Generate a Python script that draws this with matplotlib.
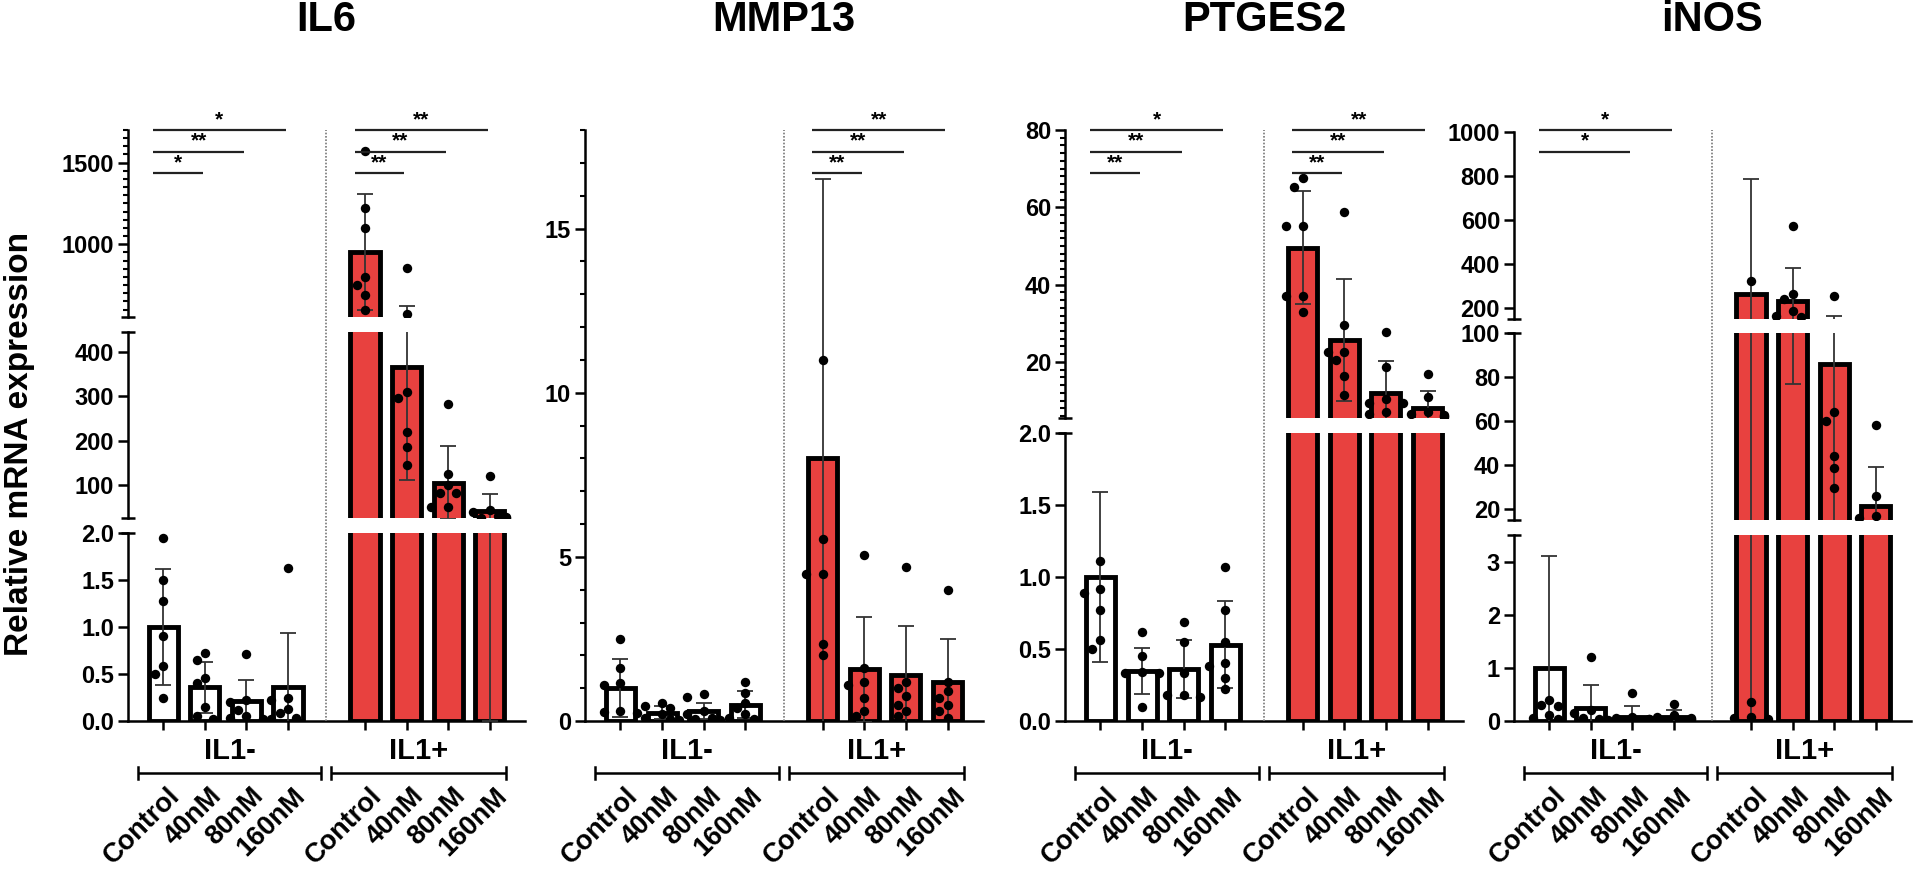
import numpy as np
import matplotlib
matplotlib.use("Agg")
import matplotlib.pyplot as plt
from matplotlib.lines import Line2D

plt.rcParams['font.family'] = ['Liberation Sans', 'DejaVu Sans']
plt.rcParams['font.weight'] = 'bold'

# ---- data ----
groups = ["IL1-", "IL1+"]
doses = ["Control", "40nM", "80nM", "160nM"]
genes = ["IL6", "MMP13", "PTGES2", "iNOS"]

# bar order: IL1- Control, 40, 80, 160, IL1+ Control, 40, 80, 160
il6_mean = [1.0, 0.36, 0.21, 0.36, 955, 365, 105, 40]
il6_sd = [0.62, 0.27, 0.23, 0.58, 355, 255, 82, 40]
il6_pts = [[1.95, 1.5, 1.28, 0.9, 0.58, 0.5, 0.25],
           [0.72, 0.65, 0.46, 0.40, 0.15, 0.05, 0.02],
           [0.71, 0.22, 0.20, 0.12, 0.05, 0.03, 0.02],
           [1.63, 0.24, 0.22, 0.13, 0.08, 0.03, 0.02],
           [1573, 1224, 1097, 800, 752, 691, 600],
           [855, 575, 310, 295, 220, 185, 145],
           [282, 125, 100, 82, 82, 50, 50],
           [120, 42, 38, 30, 28, 26, 25]]
il6_sig = [("IL1-", "40nM", "*"), ("IL1-", "80nM", "**"), ("IL1-", "160nM", "*"),
           ("IL1+", "40nM", "**"), ("IL1+", "80nM", "**"), ("IL1+", "160nM", "**")]

mmp13_mean = [1.0, 0.25, 0.3, 0.5, 8.0, 1.58, 1.39, 1.2]
mmp13_sd = [0.88, 0.2, 0.25, 0.4, 8.5, 1.6, 1.5, 1.3]
mmp13_pts = [[2.5, 1.62, 1.15, 1.1, 0.3, 0.28, 0.25],
             [0.55, 0.45, 0.4, 0.2, 0.1, 0.05, 0.03],
             [0.82, 0.72, 0.3, 0.2, 0.1, 0.05, 0.03],
             [1.2, 0.85, 0.55, 0.4, 0.2, 0.1, 0.05],
             [11.0, 5.55, 4.48, 4.48, 2.36, 2.0],
             [5.06, 1.6, 1.2, 1.1, 0.7, 0.3, 0.15],
             [4.7, 1.2, 1.0, 0.76, 0.5, 0.3, 0.15],
             [4.0, 1.2, 0.9, 0.7, 0.5, 0.3, 0.1]]
mmp13_sig = [("IL1+", "40nM", "**"), ("IL1+", "80nM", "**"), ("IL1+", "160nM", "**")]

ptges2_mean = [1.0, 0.345, 0.36, 0.53, 49.5, 25.6, 12.0, 8.2]
ptges2_sd = [0.59, 0.16, 0.2, 0.3, 14.6, 15.8, 8.2, 4.4]
ptges2_pts = [[1.11, 0.92, 0.89, 0.77, 0.56, 0.50],
              [0.62, 0.45, 0.34, 0.33, 0.33, 0.1],
              [0.69, 0.55, 0.33, 0.18, 0.18, 0.17],
              [1.07, 0.77, 0.55, 0.40, 0.38, 0.30, 0.22],
              [67.6, 65.3, 55.2, 55.2, 37, 37, 33],
              [58.8, 29.6, 22.6, 22.6, 20.5, 16.4, 11.5],
              [27.8, 18.8, 10.5, 9.5, 9.5, 7, 6.5],
              [17, 10.9, 7, 6.5, 6.2, 6, 5.8]]
ptges2_sig = [("IL1-", "40nM", "**"), ("IL1-", "80nM", "**"), ("IL1-", "160nM", "*"),
              ("IL1+", "40nM", "**"), ("IL1+", "80nM", "**"), ("IL1+", "160nM", "**")]

inos_mean = [1.0, 0.25, 0.07, 0.07, 262, 230, 86, 21.5]
inos_sd = [2.1, 0.43, 0.21, 0.13, 525, 153, 78, 17.5]
inos_pts = [[0.4, 0.3, 0.28, 0.12, 0.05, 0.03],
            [1.2, 0.2, 0.15, 0.05, 0.03, 0.02],
            [0.52, 0.08, 0.05, 0.04, 0.03, 0.02],
            [0.32, 0.12, 0.08, 0.05, 0.03, 0.02],
            [323, 0.35, 0.08, 0.05, 0.03],
            [573, 264, 240, 185, 165, 160],
            [255, 64, 60, 44, 38.5, 29.4],
            [58, 26, 17, 16]]
inos_sig = [("IL1-", "80nM", "*"), ("IL1-", "160nM", "*")]

# ---- layout ----
W, H = 1920, 876
RED = '#e8413f'
pos = np.r_[np.arange(4), np.arange(4) + 4.85]
SEP = 3.92
XLIM = (-0.85, 8.7)
AX_TOP, AX_BOT = 130, 721

# segment: (ylo, yhi, bottom px, top px, ticks, minor step, format)
panels = [
    dict(name="IL6", x0=128, x1=525, mean=il6_mean, sd=il6_sd, pts=il6_pts, sig=il6_sig,
         segs=[(0, 2, 721, 533, [0, 0.5, 1, 1.5, 2], None, '{:.1f}'),
               (25, 445, 518, 332, [100, 200, 300, 400], None, '{:.0f}'),
               (555, 1700, 317, 130, [1000, 1500], 50, '{:.0f}')]),
    dict(name="MMP13", x0=585, x1=983, mean=mmp13_mean, sd=mmp13_sd, pts=mmp13_pts, sig=mmp13_sig,
         segs=[(0, 18, 721, 130, [0, 5, 10, 15], 1, '{:.0f}')]),
    dict(name="PTGES2", x0=1065, x1=1463, mean=ptges2_mean, sd=ptges2_sd, pts=ptges2_pts, sig=ptges2_sig,
         segs=[(0, 2, 721, 433, [0, 0.5, 1, 1.5, 2], None, '{:.1f}'),
               (5.5, 80, 418, 130, [20, 40, 60, 80], 2, '{:.0f}')]),
    dict(name="iNOS", x0=1514, x1=1911, mean=inos_mean, sd=inos_sd, pts=inos_pts, sig=inos_sig,
         segs=[(0, 3.5, 721, 535, [0, 1, 2, 3], None, '{:.0f}'),
               (15, 100, 520, 333, [20, 40, 60, 80, 100], None, '{:.0f}'),
               (150, 1000, 319, 132, [200, 400, 600, 800, 1000], None, '{:.0f}')]),
]

fig = plt.figure(figsize=(19.2, 8.76), dpi=100)


def y_px(v, segs):
    for lo, hi, yb, yt, *_ in segs:
        if lo <= v <= hi:
            return yb - (v - lo) / (hi - lo) * (yb - yt)
    return 0.0


def swarm(vals, segs, dx=0.2, px_unit=41.7, diam=9.5):
    # simple beeswarm: centre first, then left / right if overlapping
    placed = []
    offs = {}
    order = sorted(range(len(vals)), key=lambda i: -vals[i])
    for i in order:
        yp = y_px(vals[i], segs)
        for k in [0, -1, 1, -2, 2]:
            ok = True
            for (ox, oy) in placed:
                if ((k * dx - ox) * px_unit) ** 2 + (yp - oy) ** 2 < diam ** 2:
                    ok = False
                    break
            if ok:
                break
        placed.append((k * dx, yp))
        offs[i] = k * dx
    return [offs[i] for i in range(len(vals))]


def hline_px(x0, x1, y, lw=1.8, color='black'):
    fig.add_artist(Line2D([x0 / W, x1 / W], [1 - y / H, 1 - y / H],
                          transform=fig.transFigure, color=color, lw=lw,
                          solid_capstyle='butt'))


for p in panels:
    colors = ['white'] * 4 + [RED] * 4
    axes = []
    for si, (lo, hi, yb, yt, ticks, minor, fmt) in enumerate(p['segs']):
        ax = fig.add_axes([p['x0'] / W, 1 - yb / H, (p['x1'] - p['x0']) / W, (yb - yt) / H])
        axes.append(ax)
        ax.set_xlim(*XLIM)
        ax.set_ylim(lo, hi)
        ax.patch.set_alpha(0)
        for s in ['top', 'right']:
            ax.spines[s].set_visible(False)
        ax.spines['left'].set_linewidth(1.8)
        ax.spines['bottom'].set_linewidth(1.8)
        ax.bar(pos, p['mean'], width=0.7, color=colors, edgecolor='black',
               linewidth=3.5, zorder=2)
        ax.errorbar(pos, p['mean'], yerr=p['sd'], fmt='none', ecolor='#333333',
                    elinewidth=1.3, capsize=6, capthick=1.3, zorder=3)
        for j, vals in enumerate(p['pts']):
            offs = swarm(vals, p['segs'])
            ax.scatter(pos[j] + np.array(offs), vals, s=46, color='black',
                       zorder=4, linewidths=0)
        ax.set_yticks(ticks)
        ax.set_yticklabels([fmt.format(t) for t in ticks], fontsize=17, fontweight='bold')
        if minor:
            ax.set_yticks(np.arange(np.ceil(lo / minor) * minor, hi + 1e-9, minor), minor=True)
        ax.tick_params(axis='y', which='major', length=7, width=1.8, pad=3)
        ax.tick_params(axis='y', which='minor', length=3.5, width=1.5)
        if si == 0:
            ax.set_xticks(pos)
            ax.set_xticklabels([])
            ax.tick_params(axis='x', length=6.5, width=1.8)
        else:
            ax.spines['bottom'].set_visible(False)
            ax.set_xticks([])
        # break caps on the y spine
        if len(p['segs']) > 1:
            if si > 0:
                hline_px(p['x0'] - 7, p['x0'] + 7, yb)
            if si < len(p['segs']) - 1:
                hline_px(p['x0'] - 7, p['x0'] + 7, yt)

    unit = (p['x1'] - p['x0']) / (XLIM[1] - XLIM[0])

    def xpx(x):
        return p['x0'] + (x - XLIM[0]) * unit

    # dotted separator through all segments
    fig.add_artist(Line2D([xpx(SEP) / W] * 2, [1 - AX_BOT / H, 1 - AX_TOP / H],
                          transform=fig.transFigure, color='#777777', lw=1.2,
                          linestyle=(0, (1, 1))))

    # dose labels, group brackets and labels
    for j, x in enumerate(pos):
        fig.text((xpx(x) + 4) / W, 1 - 783 / H, doses[j % 4], rotation=45,
                 rotation_mode='anchor', ha='right', va='top', fontsize=19.5,
                 fontweight='bold')
    spans = [(-0.6, SEP - 0.12), (SEP + 0.12, pos[-1] + 0.4)]
    for g, (a, b) in zip(groups, spans):
        hline_px(xpx(a), xpx(b), 773)
        for e in (a, b):
            fig.add_artist(Line2D([xpx(e) / W] * 2, [1 - 767 / H, 1 - 779 / H],
                                  transform=fig.transFigure, color='black', lw=1.8))
        fig.text(xpx((a + b) / 2) / W, 1 - 751 / H, g, ha='center', va='center',
                 fontsize=21, fontweight='bold')

    # significance bars
    for g, d, lab in p['sig']:
        gi = groups.index(g)
        ti = doses.index(d)
        k = 3 - ti
        x0 = pos[gi * 4] - 0.25
        x1 = pos[gi * 4 + ti] - 0.05
        y = AX_TOP + k * 21.5
        hline_px(xpx(x0), xpx(x1), y, lw=1.6, color='#222222')
        fig.text(xpx((x0 + x1) / 2) / W, 1 - (y - 1) / H, lab, ha='center',
                 va='bottom', fontsize=15, fontweight='bold')

    fig.text((p['x0'] + p['x1']) / 2 / W, 1 - 20 / H, p['name'], ha='center',
             va='center', fontsize=30, fontweight='bold')

fig.text(20 / W, 1 - 444 / H, "Relative mRNA expression", rotation=90, ha='center',
         va='center', fontsize=24, fontweight='bold')

fig.savefig("out.png", dpi=100)
